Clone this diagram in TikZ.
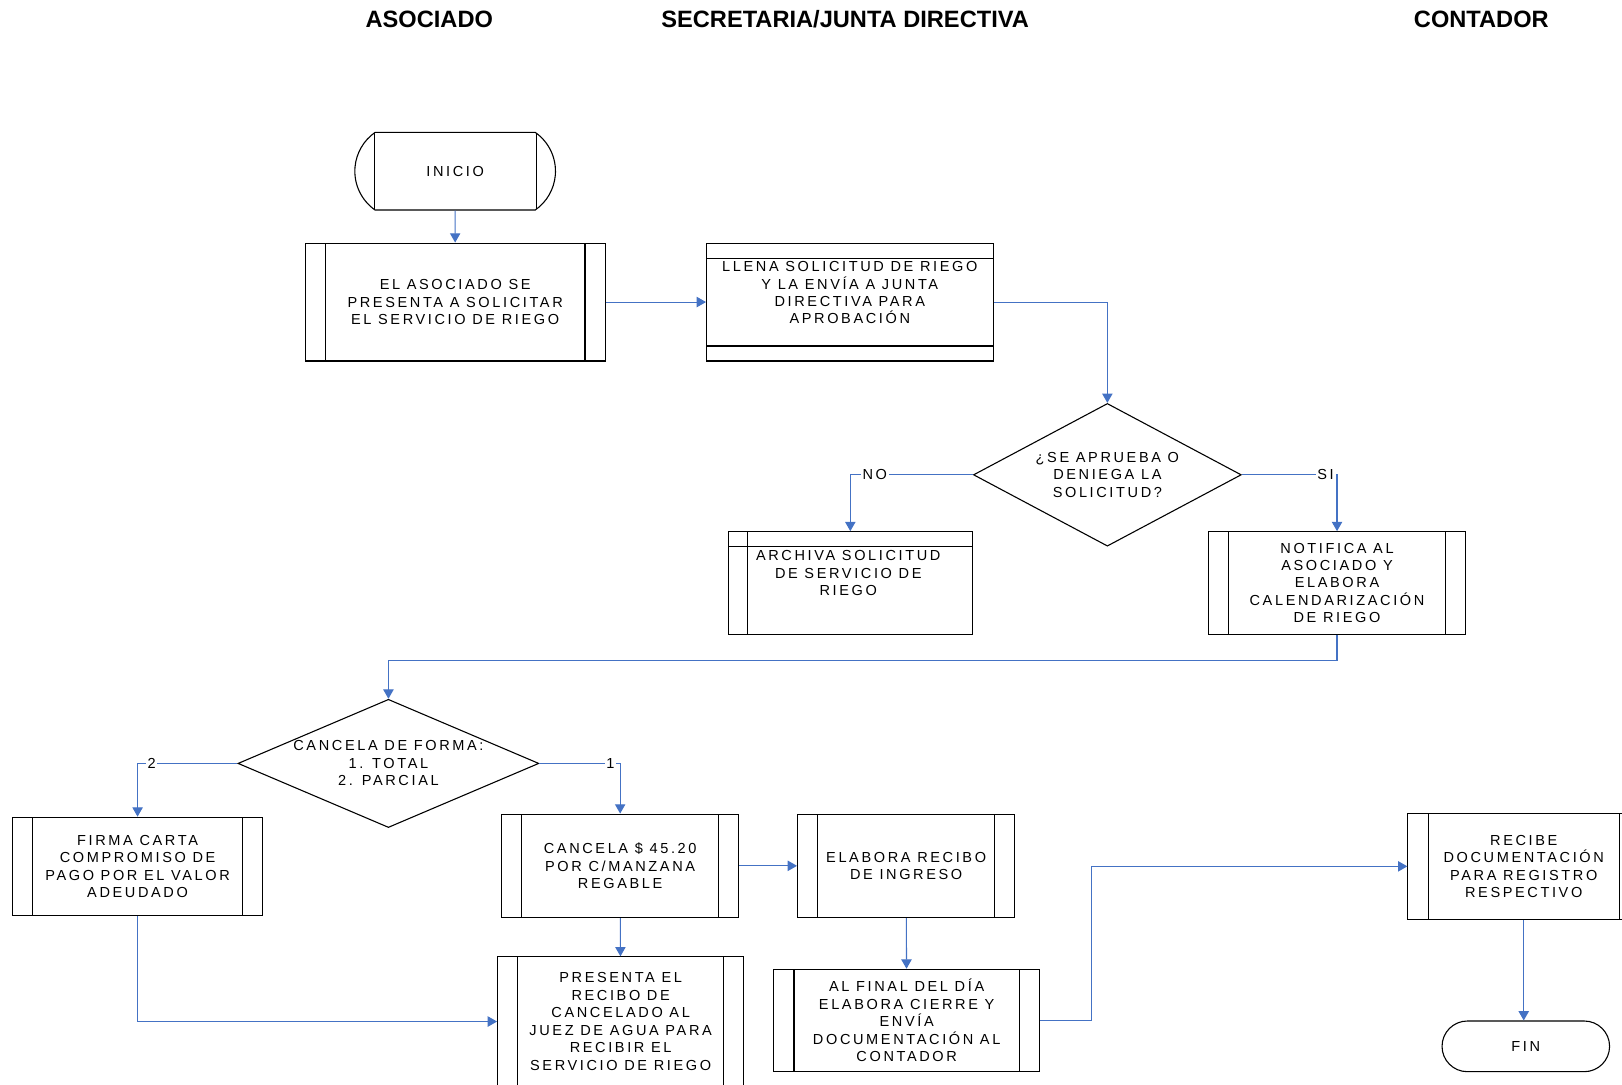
\documentclass[tikz,border=0pt]{standalone}
\usepackage{fontspec}
\setmainfont{Liberation Sans}
\newfontfamily\espaciada[LetterSpace=18]{Liberation Sans}
\usepackage{tikz}
\usetikzlibrary{shapes.geometric,shapes.misc,arrows.meta}
\definecolor{azul}{RGB}{68,114,196}
\newcommand{\txt}{\espaciada\fontsize{8}{9.6}\selectfont}

\tikzset{
	caja/.style={draw=black, line width=0.6pt, rectangle, align=center, font=\txt, inner sep=0pt},
	proc/.style={caja, path picture={
		\draw[line width=0.6pt] ([xshift=0.39cm]path picture bounding box.north west) -- ([xshift=0.39cm]path picture bounding box.south west);
		\draw[line width=0.6pt] ([xshift=-0.39cm]path picture bounding box.north east) -- ([xshift=-0.39cm]path picture bounding box.south east);}},
	procH/.style={caja, path picture={
		\draw[line width=0.6pt] ([yshift=-0.29cm]path picture bounding box.north west) -- ([yshift=-0.29cm]path picture bounding box.north east);
		\draw[line width=0.6pt] ([yshift=0.29cm]path picture bounding box.south west) -- ([yshift=0.29cm]path picture bounding box.south east);}},
	archivo/.style={caja, path picture={
		\draw[line width=0.6pt] ([xshift=0.38cm]path picture bounding box.north west) -- ([xshift=0.38cm]path picture bounding box.south west);
		\draw[line width=0.6pt] ([yshift=-0.28cm]path picture bounding box.north west) -- ([yshift=-0.28cm]path picture bounding box.north east);}},
	terminal/.style={caja, rounded rectangle},
	inicio/.style={terminal, rounded rectangle arc length=110, path picture={
		\draw[line width=0.6pt] ([xshift=0.4cm]path picture bounding box.north west) -- ([xshift=0.4cm]path picture bounding box.south west);
		\draw[line width=0.6pt] ([xshift=-0.4cm]path picture bounding box.north east) -- ([xshift=-0.4cm]path picture bounding box.south east);}},
	decision/.style={draw=black, line width=0.6pt, diamond, inner sep=0pt},
	texto/.style={align=center, font=\txt, inner sep=0pt},
	etq/.style={fill=white, inner sep=1pt, font=\txt},
	flecha/.style={draw=azul, line width=0.6pt, -{Triangle[length=0.18cm,width=0.2cm]}},
	titulo/.style={font=\bfseries\fontsize{13}{15}\selectfont}
}

\begin{document}
\begin{tikzpicture}[x=0.02cm, y=-0.02cm]
	\clip (0,0) rectangle (1568,1048);

	\node[titulo] (t1) at (415,19) {ASOCIADO};
	\node[titulo] (t2) at (817,19) {SECRETARIA/JUNTA DIRECTIVA};
	\node[titulo] (t3) at (1432,19) {CONTADOR};

	\node[inicio, minimum width=3.88cm, minimum height=1.5cm] (a) at (440,165.5) {INICIO};
	\node[proc, minimum width=5.8cm, minimum height=2.28cm] (b) at (440,292) {EL ASOCIADO SE\\PRESENTA A SOLICITAR\\EL SERVICIO DE RIEGO};
	\node[procH, minimum width=5.54cm, minimum height=2.28cm,
		label={[texto, yshift=0.18cm]center:LLENA SOLICITUD DE RIEGO\\Y LA ENVÍA A JUNTA\\DIRECTIVA PARA\\APROBACIÓN}] (c) at (821.5,292) {};
	\node[decision, minimum width=5.18cm, minimum height=2.76cm,
		label={[texto]center:¿SE APRUEBA O\\DENIEGA LA\\SOLICITUD?}] (d) at (1070.5,459) {};
	\node[archivo, minimum width=4.72cm, minimum height=1.98cm,
		label={[texto, yshift=0.19cm, xshift=-0.04cm]center:ARCHIVA SOLICITUD\\DE SERVICIO DE\\RIEGO}] (e) at (822,563.5) {};
	\node[proc, minimum width=4.98cm, minimum height=1.98cm] (f) at (1292.5,563.5) {NOTIFICA AL\\ASOCIADO Y\\ELABORA\\CALENDARIZACIÓN\\DE RIEGO};
	\node[decision, minimum width=5.82cm, minimum height=2.48cm,
		label={[texto]center:CANCELA DE FORMA:\\1. TOTAL\\2. PARCIAL}] (g) at (375.5,738) {};
	\node[proc, minimum width=4.84cm, minimum height=1.9cm] (h) at (133,837.5) {FIRMA CARTA\\COMPROMISO DE\\PAGO POR EL VALOR\\ADEUDADO};
	\node[proc, minimum width=4.58cm, minimum height=2cm] (i) at (599.5,837) {CANCELA \$ 45.20\\POR C/MANZANA\\REGABLE};
	\node[proc, minimum width=4.2cm, minimum height=2cm] (j) at (876,837) {ELABORA RECIBO\\DE INGRESO};
	\node[proc, minimum width=4.76cm, minimum height=2.5cm] (k) at (600,987.5) {PRESENTA EL\\RECIBO DE\\CANCELADO AL\\JUEZ DE AGUA PARA\\RECIBIR EL\\SERVICIO DE RIEGO};
	\node[proc, minimum width=5.14cm, minimum height=1.98cm] (l) at (876.5,986.5) {AL FINAL DEL DÍA\\ELABORA CIERRE Y\\ENVÍA\\DOCUMENTACIÓN AL\\CONTADOR};
	\node[proc, minimum width=4.48cm, minimum height=2.06cm] (m) at (1473,837.5) {RECIBE\\DOCUMENTACIÓN\\PARA REGISTRO\\RESPECTIVO};
	\node[terminal, minimum width=3.24cm, minimum height=0.98cm] (n) at (1475,1011.5) {FIN};

	\draw[flecha] (a) -- (b);
	\draw[flecha] (b) -- (c);
	\draw[flecha] (c.east) -| (d.north);
	\draw[flecha] (d.west) -| node[etq, pos=0.4] {NO} (e.north);
	\draw[flecha] (d.east) -| node[etq, pos=0.44] {SI} (f.north);
	\draw[flecha] (f.south) -- ++(0,25) -| (g.north);
	\draw[flecha] (g.west) -| node[etq, pos=0.43] {2} (h.north);
	\draw[flecha] (g.east) -| node[etq, pos=0.44] {1} (i.north);
	\draw[flecha] (i) -- (j);
	\draw[flecha] (i) -- (k);
	\draw[flecha] (h.south) |- (k.west);
	\draw[flecha] (j) -- (l);
	\draw[flecha] (l.east) -- ++(50,0) |- (m.west);
	\draw[flecha] (m.south) -- (m.south |- n.north);

\end{tikzpicture}
\end{document}
